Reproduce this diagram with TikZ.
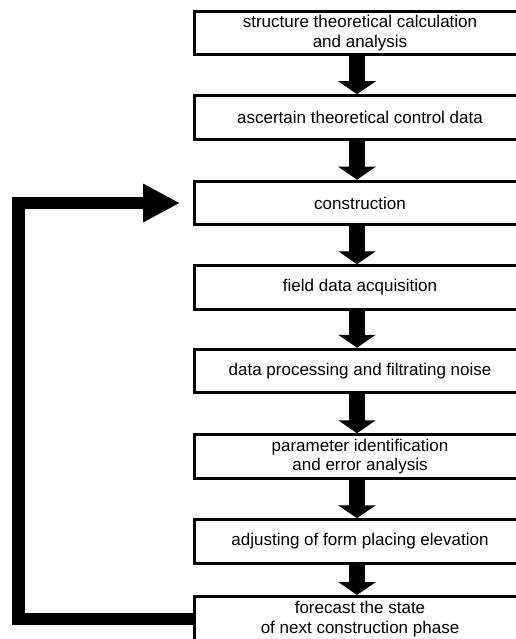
\documentclass[tikz,border=0pt]{standalone}
\usepackage{fontspec}
\setmainfont{Liberation Sans}
\usetikzlibrary{arrows.meta}
\begin{document}
\begin{tikzpicture}[x=1pt,y=-1pt,
  box/.style={draw=black, line width=3pt, fill=white, minimum width=331pt, minimum height=43.5pt,
    inner sep=0pt, align=center, font=\fontsize{17}{19.5}\selectfont},
  down/.style={line width=16pt, -{Triangle[length=13pt,width=37pt]}},
  fb/.style={line width=12.5pt, line join=miter, -{Triangle[length=37pt,width=36pt]}}]
\useasboundingbox (0,0) rectangle (516,639);
\fill[white] (0,0) rectangle (516,639);
\clip (0,0) rectangle (516,639);
\node[box] (a) at (360,33) {structure theoretical calculation\\and analysis};
\node[box] (b) at (360,117.5) {ascertain theoretical control data};
\node[box] (c) at (360,203) {construction};
\node[box] (d) at (360,287.5) {field data acquisition};
\node[box] (e) at (360,371) {data processing and filtrating noise};
\node[box] (f) at (360,456.5) {parameter identification\\and error analysis};
\node[box] (g) at (360,541.5) {adjusting of form placing elevation};
\node[box, minimum height=45pt] (h) at (360,619) {forecast the state\\of next construction phase};
\foreach \u/\v in {a/b,b/c,c/d,d/e,e/f,f/g,g/h}
  \draw[down] ([xshift=-3pt]\u.south) -- ([xshift=-3pt]\v.north);
\coordinate (lx) at (18.5,0);
\draw[fb] (h.west) -| (lx |- c.west) -- ([xshift=-13pt]c.west);
\end{tikzpicture}
\end{document}
